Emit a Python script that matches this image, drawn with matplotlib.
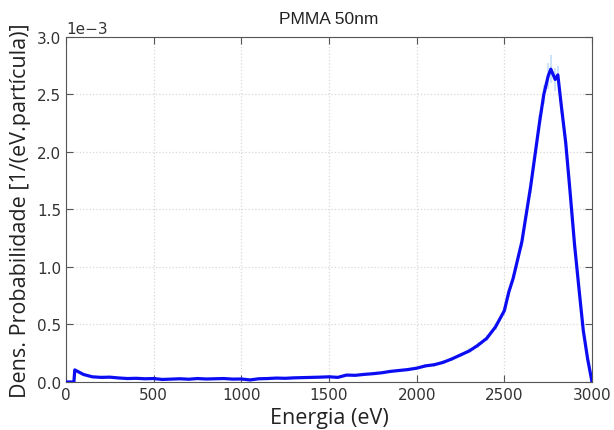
import matplotlib
matplotlib.use('agg')
import matplotlib.pyplot as plt
import numpy as np

# energy bins (eV) and probability density (units of 1e-3 per eV per particle)
energia = [0, 45, 50, 100, 150, 200, 250, 300, 350, 400, 450, 500, 550, 600,
           650, 700, 750, 800, 850, 900, 950, 1000, 1050, 1100, 1150, 1200,
           1250, 1300, 1350, 1400, 1450, 1500, 1550, 1600, 1650, 1700, 1750,
           1800, 1850, 1900, 1950, 2000, 2050, 2100, 2150, 2200, 2250, 2300,
           2350, 2400, 2450, 2500, 2525, 2550, 2600, 2650, 2700, 2725, 2750,
           2765, 2790, 2805, 2825, 2850, 2875, 2900, 2925, 2950, 2975, 3000]
dens = [0.0, 0.0, 0.105, 0.065, 0.045, 0.040, 0.042, 0.035, 0.030, 0.032,
        0.028, 0.030, 0.022, 0.025, 0.028, 0.024, 0.030, 0.026, 0.028, 0.030,
        0.025, 0.026, 0.018, 0.028, 0.030, 0.034, 0.032, 0.036, 0.038, 0.040,
        0.042, 0.045, 0.040, 0.060, 0.058, 0.066, 0.072, 0.080, 0.092, 0.100,
        0.108, 0.120, 0.140, 0.150, 0.170, 0.200, 0.235, 0.270, 0.320, 0.380,
        0.480, 0.620, 0.780, 0.900, 1.220, 1.700, 2.250, 2.500, 2.660, 2.720,
        2.630, 2.670, 2.400, 2.080, 1.650, 1.200, 0.820, 0.450, 0.200, 0.0]
erro = [0.0, 0.0, 0.010, 0.008, 0.007, 0.007, 0.007, 0.006, 0.006, 0.006,
        0.006, 0.006, 0.005, 0.005, 0.006, 0.005, 0.006, 0.005, 0.006, 0.006,
        0.005, 0.005, 0.005, 0.006, 0.006, 0.006, 0.006, 0.007, 0.007, 0.007,
        0.007, 0.008, 0.008, 0.009, 0.009, 0.010, 0.010, 0.011, 0.012, 0.012,
        0.013, 0.014, 0.015, 0.016, 0.017, 0.019, 0.021, 0.022, 0.024, 0.027,
        0.030, 0.035, 0.038, 0.040, 0.048, 0.058, 0.070, 0.085, 0.110, 0.120,
        0.100, 0.080, 0.060, 0.050, 0.045, 0.040, 0.032, 0.025, 0.015, 0.0]

x = np.array(energia)
y = np.array(dens) * 1e-3
yerr = np.array(erro) * 1e-3

fig = plt.figure(figsize=(6.14, 4.31), dpi=100)
ax = fig.add_axes([0.1075, 0.1114, 0.8567, 0.8006])

ax.errorbar(x, y, yerr=yerr, fmt='none', ecolor='#b4d7f5', elinewidth=1.2,
            capsize=0, alpha=0.8, zorder=2)
ax.plot(x, y, color='#0c0cf2', linewidth=2.3, zorder=3)

ax.set_xlim(0, 3000)
ax.set_ylim(0, 3.0e-3)
ax.set_xticks([0, 500, 1000, 1500, 2000, 2500, 3000])
ax.set_yticks([0, 0.5e-3, 1.0e-3, 1.5e-3, 2.0e-3, 2.5e-3, 3.0e-3])
ax.ticklabel_format(axis='y', style='sci', scilimits=(-3, -3))
ax.yaxis.get_offset_text().set_fontsize(11)
ax.yaxis.get_offset_text().set_color('#333333')

ax.grid(True, linestyle=':', color='#d8d8d8', linewidth=0.9)
ax.tick_params(direction='in', top=True, right=True, length=5,
               labelsize=11, labelcolor='#333333', color='#555555')
for sp in ax.spines.values():
    sp.set_color('#555555')

ax.set_title('PMMA 50nm', fontsize=12.5, family='Liberation Sans',
             color='#222222', pad=10)
ax.set_xlabel('Energia (eV)', fontsize=15.5, family='Open Sans', color='#222222')
ax.set_ylabel('Dens. Probabilidade [1/(eV.partícula)]', fontsize=15.5,
              family='Open Sans', color='#222222')

plt.savefig('out.png', dpi=100)
